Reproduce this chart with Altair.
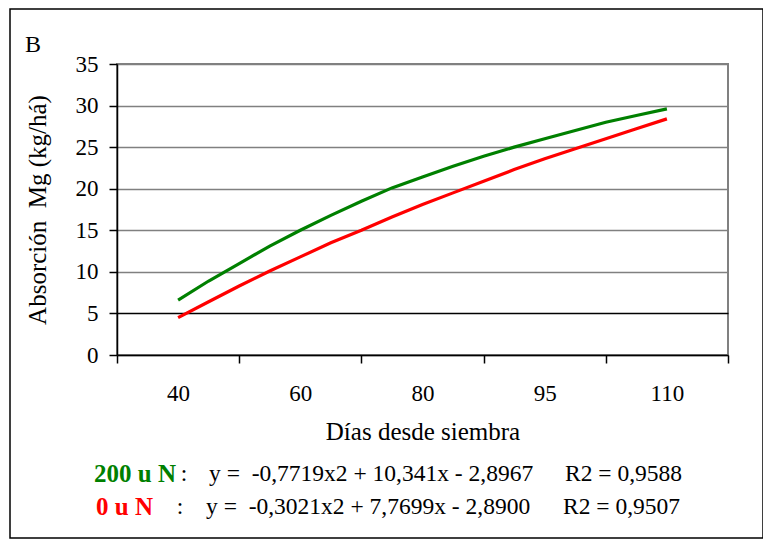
import json
import altair as alt
import pandas as pd

# ---- data ----
x_pos = [1.0, 1.25, 1.5, 1.75, 2.0, 2.25, 2.5, 2.75, 3.0, 3.25, 3.5, 3.75, 4.0, 4.25, 4.5, 4.75, 5.0]
day_ticks = [1, 2, 3, 4, 5]
day_labels = ["40", "60", "80", "95", "110"]
green_vals = [6.6, 8.9, 11.0, 13.1, 15.0, 16.8, 18.5, 20.1, 21.4, 22.7, 23.9, 25.0, 26.0, 27.0, 28.0, 28.8, 29.6]
red_vals = [4.5, 6.4, 8.3, 10.1, 11.8, 13.5, 15.0, 16.6, 18.1, 19.5, 20.9, 22.3, 23.6, 24.8, 26.0, 27.2, 28.4]
series = ["200 u N", "0 u N"]
y_ticks = [0, 5, 10, 15, 20, 25, 30, 35]

NB = "\u00a0"
panel_label = "B"
y_title = f"Absorción {NB}Mg (kg/há)"
x_title = "Días desde siembra"
eq_200 = f"y = {NB}-0,7719x2 + 10,341x - 2,8967"
r2_200 = "R2 = 0,9588"
eq_0 = f"y = {NB}-0,3021x2 + 7,7699x - 2,8900"
r2_0 = "R2 = 0,9507"

GREEN = "#008000"
RED = "#ff0000"
FONT = "Liberation Serif"

df = pd.DataFrame({
    "x": x_pos * 2,
    "y": green_vals + red_vals,
    "s": [series[0]] * len(x_pos) + [series[1]] * len(x_pos),
})

lab_arr = json.dumps([""] + day_labels)
label_expr = f"datum.value % 1 == 0 ? {lab_arr}[datum.value] : ''"
x_tick_vals = [0.5, 1, 1.5, 2, 2.5, 3, 3.5, 4, 4.5, 5, 5.5]

lines = alt.Chart(df).mark_line(strokeWidth=3.2, clip=False).encode(
    x=alt.X("x:Q", scale=alt.Scale(domain=[0.5, 5.5], nice=False, zero=False),
            axis=alt.Axis(values=x_tick_vals, labelExpr=label_expr, grid=False,
                          tickOpacity={"condition": {"test": "datum.value % 1 == 0", "value": 0}, "value": 1},
                          tickSize=8, tickColor="#000000", tickWidth=1.5,
                          domainColor="#000000", domainWidth=1.5,
                          labelFont=FONT, labelFontSize=23, labelColor="#000000",
                          labelBaseline="middle", labelPadding=30, labelAngle=0,
                          title=x_title, titleFont=FONT, titleFontSize=25, titleFontWeight="normal",
                          titleColor="#000000", titleBaseline="middle", titleY=76)),
    y=alt.Y("y:Q", scale=alt.Scale(domain=[0, 35], nice=False),
            axis=alt.Axis(values=y_ticks, grid=True,
                          gridColor={"condition": {"test": "datum.value == 5", "value": "#000000"}, "value": "#808080"},
                          gridWidth=1.5, tickSize=8, tickColor="#000000", tickWidth=1.5,
                          domainColor="#000000", domainWidth=1.5,
                          labelFont=FONT, labelFontSize=23, labelColor="#000000", labelPadding=11,
                          title=y_title, titleFont=FONT, titleFontSize=25, titleFontWeight="normal",
                          titleColor="#000000", titleBaseline="middle", titleX=-80)),
    color=alt.Color("s:N", scale=alt.Scale(domain=series, range=[GREEN, RED]), legend=None),
    detail="s:N",
)


def txt(text, x, y, color="#000000", bold=False, align="left", size=23.5):
    return alt.Chart(pd.DataFrame({"t": [text]})).mark_text(
        text=text, align=align, baseline="middle", font=FONT, fontSize=size,
        fontWeight="bold" if bold else "normal", color=color, clip=False,
    ).encode(x=alt.value(x), y=alt.value(y))


frame = alt.Chart(pd.DataFrame({"t": [0]})).mark_rect(
    fill=None, stroke="#000000", strokeWidth=1.5, clip=False
).encode(x=alt.value(-107), x2=alt.value(646), y=alt.value(-55), y2=alt.value(474))

layers = [
    frame,
    lines,
    txt(panel_label, -92, -19, size=24),
    txt(series[0], -23, 410, color=GREEN, bold=True, size=25),
    txt(":", 67, 410, align="center"),
    txt(eq_200, 92, 410),
    txt(r2_200, 448, 410),
    txt(series[1], -21, 443, color=RED, bold=True, size=25),
    txt(":", 63, 443, align="center"),
    txt(eq_0, 89, 443),
    txt(r2_0, 446, 443),
]

chart = alt.layer(*layers).properties(
    width=611, height=291,
    autosize=alt.AutoSizeParams(type="none"),
    padding={"left": 109, "top": 56, "right": 35, "bottom": 185},
    background="#ffffff",
).configure_view(stroke="#808080", strokeWidth=2)

chart.save("out.html", embed_options={"renderer": "svg", "actions": False})
